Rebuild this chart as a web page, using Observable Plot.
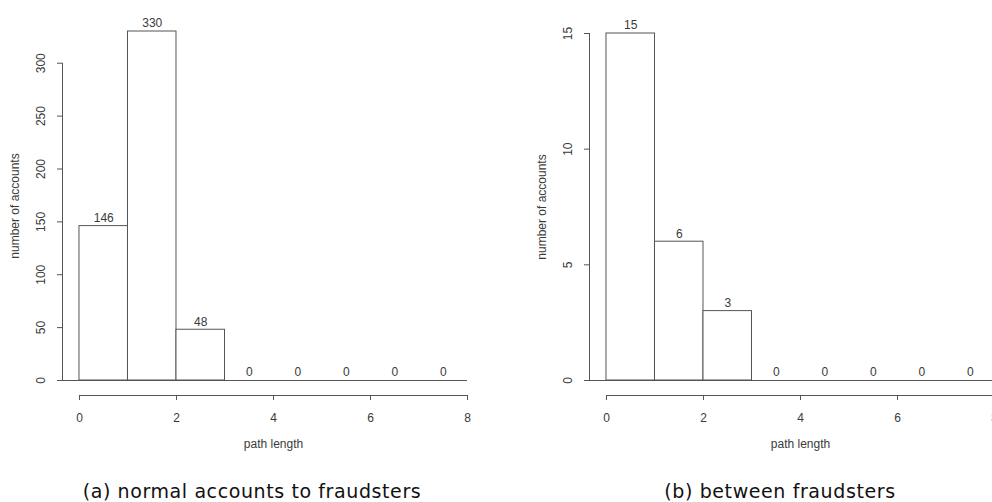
<!DOCTYPE html>
<html>
<head>
<meta charset="utf-8">
<script src="https://cdn.jsdelivr.net/npm/d3@7"></script>
<script src="https://cdn.jsdelivr.net/npm/@observablehq/plot@0.6"></script>
<style>
  html, body { margin: 0; padding: 0; background: #fff; overflow: hidden; }
  #figure { position: relative; width: 992px; height: 502px; overflow: hidden; background: #fff; }
  .panel { position: absolute; top: 0; width: 496px; height: 460px; }
  .panel svg { max-width: none !important; display: block; }
  .caption {
    position: absolute; top: 482px; width: 400px; text-align: center;
    font-family: "DejaVu Sans", sans-serif; font-size: 19px; line-height: 19px;
    letter-spacing: 0.6px; color: #111; white-space: nowrap;
  }
</style>
</head>
<body>
<div id="figure">
  <div id="left" class="panel" style="left:0px"></div>
  <div id="right" class="panel" style="left:527px"></div>
  <div class="caption" style="left:52px">(a) normal accounts to fraudsters</div>
  <div class="caption" style="left:580px">(b) between fraudsters</div>
</div>
<script>
// Histogram bins of path length (each bin is one unit wide)
const binStarts = [0, 1, 2, 3, 4, 5, 6, 7];
const normalCounts = [146, 330, 48, 0, 0, 0, 0, 0];
const fraudCounts = [15, 6, 3, 0, 0, 0, 0, 0];

// Axis ticks
const xTicks = [0, 2, 4, 6, 8];
const normalYTicks = [0, 50, 100, 150, 200, 250, 300];
const fraudYTicks = [0, 5, 10, 15];

const xTitle = "path length";
const yTitle = "number of accounts";

const ink = "#555";
const textInk = "#3a3a3a";
const xLeft = -0.35; // left edge of the plotting region, where the y axis sits

function histogram(counts, yMax, yTicks, marginTop) {
  const rows = binStarts.map((x1, i) => ({x1, x2: x1 + 1, count: counts[i]}));
  return Plot.plot({
    width: 496,
    height: 460,
    marginLeft: 62,
    marginRight: 12,
    marginTop,
    marginBottom: 80,
    style: {fontFamily: "'Liberation Sans', Arial, sans-serif", fontSize: "12px", color: textInk, background: "transparent"},
    x: {domain: [xLeft, 8.35]},
    y: {domain: [0, yMax]},
    marks: [
      // baseline shared by the bars
      Plot.ruleY([0], {x1: xLeft, x2: 8, stroke: ink}),
      Plot.rectY(rows, {x1: "x1", x2: "x2", y: "count", fill: "white", stroke: ink, strokeWidth: 1}),
      Plot.text(rows, {x: d => d.x1 + 0.5, y: "count", text: d => String(d.count), dy: -8, fill: textInk}),
      // y axis
      Plot.ruleX([xLeft], {y1: 0, y2: yTicks[yTicks.length - 1], stroke: ink}),
      Plot.axisY({ticks: yTicks, tickSize: 5, tickRotate: -90, tickPadding: 13, tickFormat: d => String(d), label: null, stroke: ink, fill: textInk}),
      // x axis, offset below the bars
      Plot.ruleY([0], {x1: 0, x2: 8, dy: 15, stroke: ink}),
      Plot.axisX({ticks: xTicks, tickSize: 5, dy: 15, tickPadding: 13, tickFormat: d => String(d), label: null, stroke: ink, fill: textInk}),
      Plot.text([xTitle], {x: 4, frameAnchor: "bottom", dy: 67, fill: textInk}),
      Plot.text([yTitle], {frameAnchor: "left", rotate: -90, textAnchor: "middle", dx: -47, fill: textInk})
    ]
  });
}

document.getElementById("left").append(histogram(normalCounts, 330, normalYTicks, 31));
document.getElementById("right").append(histogram(fraudCounts, 15, fraudYTicks, 33));
</script>
</body>
</html>
